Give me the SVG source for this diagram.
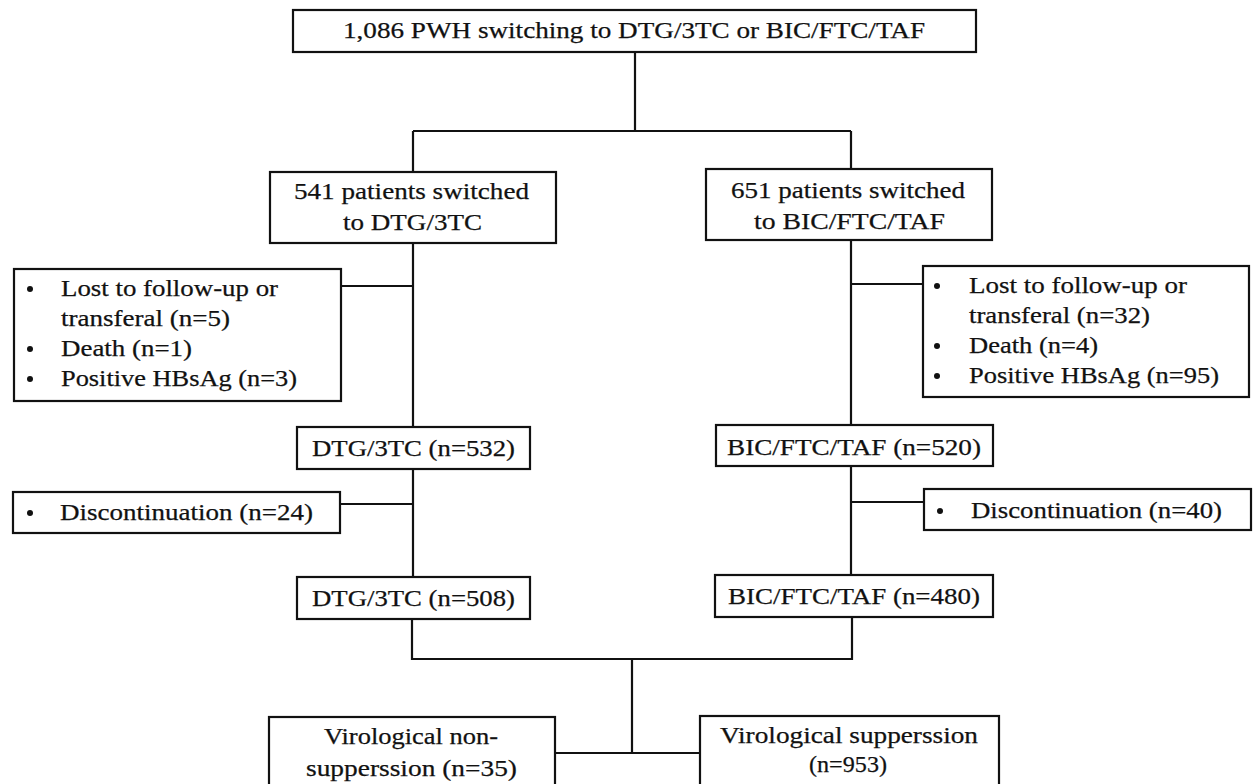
<svg xmlns="http://www.w3.org/2000/svg" width="1254" height="784" viewBox="0 0 1254 784">
<style>
.box{fill:#fff;stroke:#111;stroke-width:2.2}
.ln{fill:none;stroke:#111;stroke-width:2.2}
.t text{font-family:'Liberation Serif','Times New Roman',Times,serif;font-size:24px;fill:#111;stroke:#111;stroke-width:0.25}
.b{fill:#111}
</style>
<rect width="1254" height="784" fill="#fff"/>
<g id="connectors">
<path class="ln" d="M635 52V131M413 131H851M413 131V172M851 131V169"/>
<path class="ln" d="M413 243V427M341 286H413"/>
<path class="ln" d="M851 240V425M851 284H923"/>
<path class="ln" d="M413 469V577M340 504H413"/>
<path class="ln" d="M851 466V575M851 502H924"/>
<path class="ln" d="M412 619V659H852V617M632 659V754M555 753H700"/>
</g>
<g class="t" font-family="Liberation Serif, serif">
<g id="n-total">
<rect class="box" x="293" y="10" width="683" height="42"/>
<text x="343" y="38" textLength="582" lengthAdjust="spacingAndGlyphs">1,086 PWH switching to DTG/3TC or BIC/FTC/TAF</text>
</g>
<g id="n-dtg-switch">
<rect class="box" x="270" y="172" width="286" height="71"/>
<text x="294" y="199" textLength="235" lengthAdjust="spacingAndGlyphs">541 patients switched</text>
<text x="343" y="230" textLength="139" lengthAdjust="spacingAndGlyphs">to DTG/3TC</text>
</g>
<g id="n-bic-switch">
<rect class="box" x="706" y="169" width="286" height="71"/>
<text x="731" y="198" textLength="234" lengthAdjust="spacingAndGlyphs">651 patients switched</text>
<text x="754" y="229" textLength="191" lengthAdjust="spacingAndGlyphs">to BIC/FTC/TAF</text>
</g>
<g id="n-excl-left">
<rect class="box" x="14" y="269" width="327" height="132"/>
<circle class="b" cx="30" cy="289" r="3"/>
<circle class="b" cx="30" cy="349" r="3"/>
<circle class="b" cx="30" cy="379" r="3"/>
<text x="61" y="296" textLength="217" lengthAdjust="spacingAndGlyphs">Lost to follow-up or</text>
<text x="61" y="326" textLength="169" lengthAdjust="spacingAndGlyphs">transferal (n=5)</text>
<text x="61" y="356" textLength="131" lengthAdjust="spacingAndGlyphs">Death (n=1)</text>
<text x="61" y="386" textLength="236" lengthAdjust="spacingAndGlyphs">Positive HBsAg (n=3)</text>
</g>
<g id="n-excl-right">
<rect class="box" x="923" y="266" width="326" height="131"/>
<circle class="b" cx="937" cy="286" r="3"/>
<circle class="b" cx="937" cy="346" r="3"/>
<circle class="b" cx="937" cy="376" r="3"/>
<text x="969" y="293" textLength="218" lengthAdjust="spacingAndGlyphs">Lost to follow-up or</text>
<text x="969" y="323" textLength="181" lengthAdjust="spacingAndGlyphs">transferal (n=32)</text>
<text x="969" y="353" textLength="129" lengthAdjust="spacingAndGlyphs">Death (n=4)</text>
<text x="969" y="383" textLength="250" lengthAdjust="spacingAndGlyphs">Positive HBsAg (n=95)</text>
</g>
<g id="n-dtg-532">
<rect class="box" x="297" y="427" width="233" height="42"/>
<text x="312" y="456" textLength="203" lengthAdjust="spacingAndGlyphs">DTG/3TC (n=532)</text>
</g>
<g id="n-bic-520">
<rect class="box" x="716" y="425" width="277" height="41"/>
<text x="727" y="455" textLength="254" lengthAdjust="spacingAndGlyphs">BIC/FTC/TAF (n=520)</text>
</g>
<g id="n-disc-left">
<rect class="box" x="13" y="492" width="327" height="41"/>
<circle class="b" cx="30" cy="513" r="3"/>
<text x="60" y="520" textLength="253" lengthAdjust="spacingAndGlyphs">Discontinuation (n=24)</text>
</g>
<g id="n-disc-right">
<rect class="box" x="924" y="489" width="327" height="41"/>
<circle class="b" cx="940" cy="511" r="3"/>
<text x="971" y="518" textLength="251" lengthAdjust="spacingAndGlyphs">Discontinuation (n=40)</text>
</g>
<g id="n-dtg-508">
<rect class="box" x="297" y="577" width="233" height="42"/>
<text x="312" y="606" textLength="203" lengthAdjust="spacingAndGlyphs">DTG/3TC (n=508)</text>
</g>
<g id="n-bic-480">
<rect class="box" x="715" y="575" width="278" height="42"/>
<text x="728" y="604" textLength="252" lengthAdjust="spacingAndGlyphs">BIC/FTC/TAF (n=480)</text>
</g>
<g id="n-nonsupp">
<rect class="box" x="269" y="717" width="286" height="90"/>
<text x="324" y="744" textLength="174" lengthAdjust="spacingAndGlyphs">Virological non-</text>
<text x="306" y="776" textLength="211" lengthAdjust="spacingAndGlyphs">supperssion (n=35)</text>
</g>
<g id="n-supp">
<rect class="box" x="700" y="716" width="299" height="90"/>
<text x="720" y="743" textLength="258" lengthAdjust="spacingAndGlyphs">Virological supperssion</text>
<text x="809" y="772" textLength="78" lengthAdjust="spacingAndGlyphs">(n=953)</text>
</g>
</g>
</svg>
